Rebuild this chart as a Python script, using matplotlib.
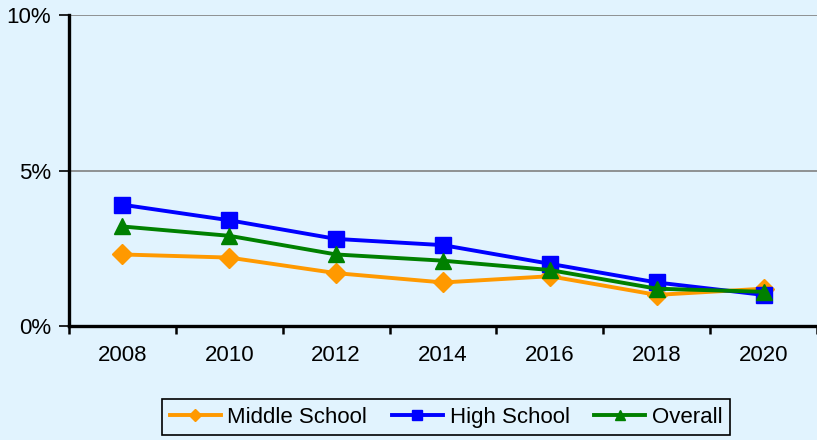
import matplotlib
matplotlib.use("Agg")
import matplotlib.pyplot as plt
import numpy as np

years = ["2008", "2010", "2012", "2014", "2016", "2018", "2020"]
middle_school = [2.3, 2.2, 1.7, 1.4, 1.6, 1.0, 1.2]
high_school = [3.9, 3.4, 2.8, 2.6, 2.0, 1.4, 1.0]
overall = [3.2, 2.9, 2.3, 2.1, 1.8, 1.2, 1.1]
y_ticks = [0, 5, 10]
y_tick_labels = ["0%", "5%", "10%"]

plt.rcParams['font.family'] = ['Liberation Sans', 'DejaVu Sans']
bg = "#E1F3FE"

fig = plt.figure(figsize=(8.17, 4.40), dpi=100, facecolor=bg)
ax = fig.add_axes([69/817, 1-326/440, 1-69/817, (326-15)/440])
ax.set_facecolor(bg)

x = np.arange(len(years))
l1, = ax.plot(x, middle_school, color="#FF9900", lw=2.8, marker="D", ms=10, label="Middle School", zorder=3)
l2, = ax.plot(x, high_school, color="#0000FF", lw=2.8, marker="s", ms=11, label="High School", zorder=3)
l3, = ax.plot(x, overall, color="#008000", lw=2.8, marker="^", ms=11, label="Overall", zorder=4)

ax.set_xlim(-0.5, len(years) - 0.5)
ax.set_ylim(0, 10)
ax.set_yticks(y_ticks)
ax.set_yticklabels(y_tick_labels, fontsize=16)
ax.yaxis.grid(True, color="#808080", lw=1.2)
ax.set_axisbelow(True)

ax.set_xticks(x)
ax.set_xticklabels(years, fontsize=16)
ax.set_xticks(np.arange(-0.5, len(years)), minor=True)
ax.tick_params(axis="x", which="major", length=0, pad=14)
ax.tick_params(axis="x", which="minor", length=6, width=1.8, direction="out", color="black")
ax.tick_params(axis="y", which="major", length=7, width=1.2, direction="out", color="black", pad=6)

for s in ["top", "right"]:
    ax.spines[s].set_visible(False)
for s in ["left", "bottom"]:
    ax.spines[s].set_linewidth(2.4)
    ax.spines[s].set_color("black")

leg = fig.legend(handles=[l1, l2, l3], loc="center", bbox_to_anchor=(446/817, 1-417/440),
                 ncol=3, fontsize=16, frameon=True, fancybox=False, edgecolor="black",
                 facecolor=bg, handlelength=2.3, columnspacing=1.1, handletextpad=0.3,
                 borderpad=0.35, borderaxespad=0.3, markerscale=0.6)
leg.get_frame().set_linewidth(1.2)
leg.get_frame().set_alpha(1)

fig.savefig("out.png", dpi=100, facecolor=bg)
